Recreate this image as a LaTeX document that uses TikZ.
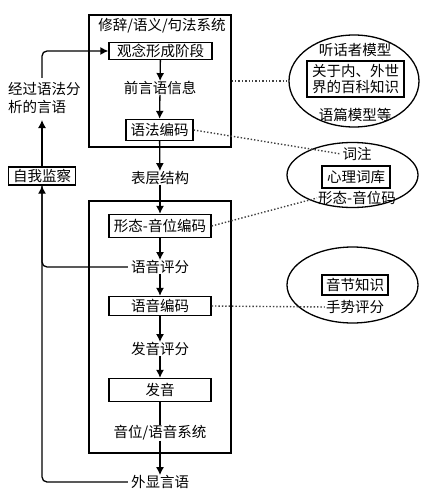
\documentclass[tikz,border=0pt]{standalone}
\usepackage{fontspec}
\setmainfont{Noto Sans CJK SC}
\usetikzlibrary{arrows.meta,shapes.geometric}
\begin{document}
\begin{tikzpicture}[x=1pt,y=-1pt,
  every node/.style={font=\fontsize{14.5}{17}\selectfont, inner sep=0pt},
  box/.style={draw, line width=1.3pt, minimum width=102pt, minimum height=20pt},
  frame/.style={draw, line width=1.3pt},
  oval/.style={draw, ellipse, line width=1.3pt},
  arr/.style={line width=1.3pt, -{Latex[length=8pt,width=8pt]}},
  link/.style={line width=1.4pt, dotted, black!75},
  fb/.style={line width=1.3pt, rounded corners=5pt}]
\useasboundingbox (0,0) rectangle (425,492);
% system frames
\node[frame, minimum width=142pt, minimum height=132pt] (sys1) at (160,81) {};
\node[frame, minimum width=142pt, minimum height=252pt] (sys2) at (160,327) {};
\node (t1) at (162,26) {修辞/语义/句法系统};
\node[box, minimum width=103pt, minimum height=17pt] (b1) at (160.5,51) {观念形成阶段};
\node (m1) at (160,88) {前言语信息};
\node[box, minimum width=67pt, minimum height=21pt] (b2) at (159.5,130) {语法编码};
\node (m2) at (160,178) {表层结构};
\node[box, minimum height=23pt] (b3) at (160,226) {形态-音位编码};
\node (m3) at (160,267) {语音评分};
\node[box, minimum height=19pt] (b4) at (160,306) {语音编码};
\node (m4) at (160,349) {发音评分};
\node[box, minimum height=23pt] (b5) at (160,390) {发音};
\node (m5) at (160,433) {音位/语音系统};
\node (m6) at (160,482) {外显言语};
% main chain
\draw[arr] (b1) -- (m1);
\draw[arr] (m1) -- (b2);
\draw[arr] (b2) -- (m2);
\draw[arr] (m2) -- (b3);
\draw[arr] (b3) -- (m3);
\draw[arr] (m3) -- (b4);
\draw[arr] (b4) -- (m4);
\draw[arr] (m4) -- (b5);
\draw[line width=1.3pt] (b5) -- (m5);
\draw[arr] (m5) -- (m6);
% left feedback
\node[align=left, anchor=west, font=\fontsize{14.5}{18}\selectfont] (lt) at (8,98) {经过语法分\\析的言语};
\node[box, minimum width=67pt, minimum height=18pt] (self) at (42,176) {自我监察};
\coordinate (ltop) at (42,78);
\coordinate (lbot) at (42,120);
\draw[fb, arr] (ltop) |- (b1.west);
\draw[arr] (self.north) -- (lbot);
\draw[fb, arr] ([xshift=-3pt]m6.west) -| (self.south);
\draw[fb] ([xshift=-3pt]m3.west) -| (self.south);
% right ellipses
\node[oval, minimum width=130pt, minimum height=92pt] (e1) at (354,81) {};
\node (h1) at (355,50) {听话者模型};
\node[box, minimum width=97pt, minimum height=36pt, align=center, font=\fontsize{14.5}{16.5}\selectfont] (k1) at (355.5,79) {关于内、外世\\界的百科知识};
\node (h2) at (355,115) {语篇模型等};
\node[oval, minimum width=131pt, minimum height=65pt] (e2) at (352.5,175) {};
\node (c1) at (357,154) {词注};
\node[box, minimum width=68pt, minimum height=22pt] (k2) at (356,177) {心理词库};
\node (c2) at (357,198) {形态-音位码};
\node[oval, minimum width=131pt, minimum height=76pt] (e3) at (352.5,285) {};
\node[box, minimum width=66pt, minimum height=20pt] (k3) at (355,285) {音节知识};
\node (c3) at (355,307) {手势评分};
% dotted links
\draw[link] (sys1.east) -- (e1.west);
\draw[link] (b2.east) -- ([xshift=-1pt]c1.west);
\draw[link] (b3.east) -- ([xshift=-1pt]c2.west);
\draw[link] (b4.east) -- ([xshift=-1pt]c3.west);
\end{tikzpicture}
\end{document}
